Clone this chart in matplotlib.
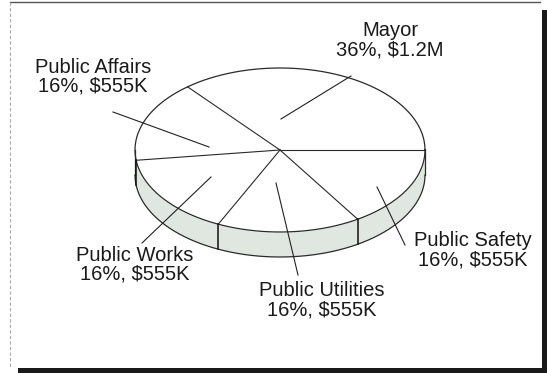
import numpy as np
import matplotlib
matplotlib.use("Agg")
import matplotlib.pyplot as plt
from matplotlib.patches import Polygon

# Budget shares by department
departments = ["Mayor", "Public Affairs", "Public Works", "Public Utilities", "Public Safety"]
shares = [36, 16, 16, 16, 16]
amounts = ["$1.2M", "$555K", "$555K", "$555K", "$555K"]

W, H = 547, 373
fig = plt.figure(figsize=(W / 100, H / 100), dpi=100)
ax = fig.add_axes([0, 0, 1, 1])
ax.set_xlim(0, W)
ax.set_ylim(H, 0)
ax.axis("off")

plt.rcParams["font.family"] = ["Liberation Sans", "DejaVu Sans"]

# Pie geometry (pixel space, y downward)
cx, cy = 280, 150
a, b = 145, 82
depth = 25
edge = "#2a2a2a"
side_fill = "#e0e7e0"


def pt(t_deg, dz=0.0):
    t = np.radians(t_deg)
    return cx + a * np.cos(t), cy - b * np.sin(t) + dz


# Slice boundaries, counter-clockwise from 3 o'clock
total = sum(shares)
bounds = np.concatenate([[0], np.cumsum(shares) / total * 360.0])

# Side wall (front half of the cylinder)
ts = np.linspace(180, 360, 200)
top = [pt(t) for t in ts]
bot = [pt(t, depth) for t in ts[::-1]]
ax.add_patch(Polygon(top + bot, closed=True, facecolor=side_fill,
                     edgecolor="none", zorder=1))
xs, ys = zip(*[pt(t, depth) for t in ts])
ax.plot(xs, ys, color=edge, lw=0.9, zorder=3)
for t in (180, 360):
    x0, y0 = pt(t)
    ax.plot([x0, x0], [y0, y0 + depth], color=edge, lw=0.9, zorder=3)

# Top face
tt = np.linspace(0, 360, 400)
ex, ey = zip(*[pt(t) for t in tt])
ax.fill(ex, ey, color="white", zorder=2)
ax.plot(ex, ey, color=edge, lw=0.9, zorder=3)

# Slice separators on top and on the visible side wall
for t in bounds[:-1]:
    x1, y1 = pt(t)
    ax.plot([cx, x1], [cy, y1], color=edge, lw=0.8, zorder=3)
    if 180 < t < 360:
        ax.plot([x1, x1], [y1, y1 + depth], color="#111111", lw=1.1, zorder=3)

# Labels and leader lines
labels = [f"{d}\n{s}%, {m}" for d, s, m in zip(departments, shares, amounts)]
label_pos = [(390, 40), (93, 77), (135, 265), (322, 300), (473, 250)]
leaders = [((281, 119), (351, 76)),
           ((209, 147), (113, 112)),
           ((211, 177), (142, 243)),
           ((276, 183), (298, 275)),
           ((377, 187), (405, 245))]
for lab, (tx, ty), (p0, p1) in zip(labels, label_pos, leaders):
    ax.plot([p0[0], p1[0]], [p0[1], p1[1]], color="#222222", lw=0.8, zorder=4)
    ax.text(tx, ty, lab, ha="center", va="center", fontsize=14.5,
            color="#1a1a1a", linespacing=1.0, zorder=5)

# Frame around the chart
ax.plot([10, 540], [1.5, 1.5], color="#555555", lw=1.0)
ax.plot([10, 10], [2, 368], color="#aaaaaa", lw=0.8, ls=(0, (3, 2)))
ax.add_patch(plt.Rectangle((542, 10), 5, 363, color="#1a1a1a", lw=0))
ax.add_patch(plt.Rectangle((18, 368), 529, 5, color="#1a1a1a", lw=0))

fig.savefig("out.png", dpi=100)
